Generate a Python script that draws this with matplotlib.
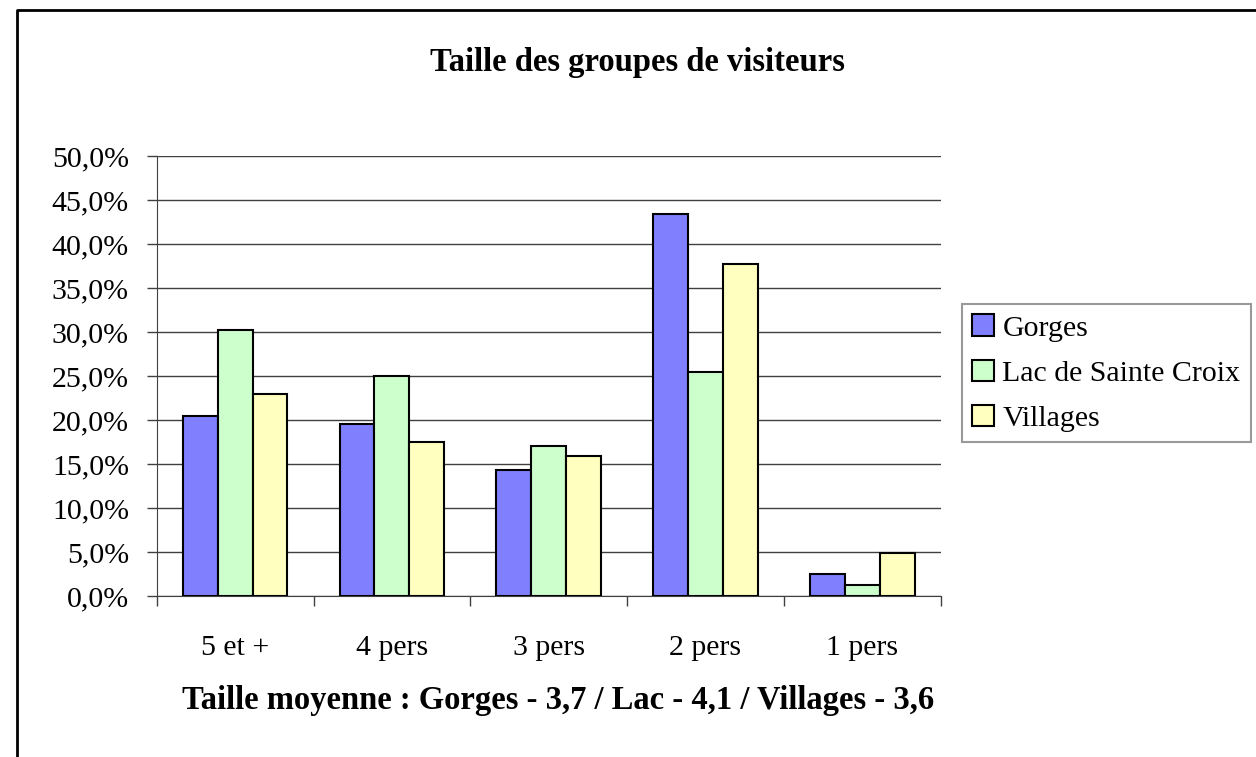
import matplotlib.pyplot as plt
import numpy as np
from matplotlib.ticker import FuncFormatter, FixedLocator
from matplotlib.lines import Line2D

# --- données ---
categories = ['5 et +', '4 pers', '3 pers', '2 pers', '1 pers']
gorges = [20.4, 19.5, 14.3, 43.4, 2.5]
lac = [30.2, 25.0, 17.0, 25.4, 1.3]
villages = [22.9, 17.5, 15.9, 37.7, 4.9]
series_names = ['Gorges', 'Lac de Sainte Croix', 'Villages']
colors = ['#8080FF', '#CCFFCC', '#FFFFC0']

plt.rcParams['font.family'] = ['Liberation Serif', 'DejaVu Serif']

W, H = 1256, 757
fig = plt.figure(figsize=(W / 100, H / 100), dpi=100)

# zone de tracé (en pixels -> fractions)
left, right, bottom, top = 156.7, 940.7, 596, 156
ax = fig.add_axes([left / W, 1 - bottom / H, (right - left) / W, (bottom - top) / H])

x = np.arange(len(categories))
bw = 2 / 9
for i, (vals, name, col) in enumerate(zip([gorges, lac, villages], series_names, colors)):
    ax.bar(x + (i - 1) * bw, vals, width=bw, color=col, edgecolor='black',
           linewidth=1.5, label=name, zorder=3)

ax.set_xlim(-0.5, len(categories) - 0.5)
ax.set_ylim(0, 50)
ax.set_yticks(np.arange(0, 51, 5))
ax.yaxis.set_major_formatter(FuncFormatter(lambda v, p: f'{v:.1f}%'.replace('.', ',')))
ax.grid(axis='y', color='#404040', linewidth=1, zorder=0)

ax.set_xticks(x)
ax.set_xticklabels(categories)
ax.xaxis.set_minor_locator(FixedLocator(np.arange(-0.5, len(categories), 1)))
ax.tick_params(axis='x', which='major', length=0, pad=28, labelsize=21.5)
ax.tick_params(axis='x', which='minor', length=7, width=1, color='#404040', direction='out')
ax.tick_params(axis='y', length=7, width=1, color='#404040', direction='out', pad=13,
               labelsize=21.5)

for s in ['top', 'right']:
    ax.spines[s].set_visible(False)
ax.spines['left'].set_color('#404040')
ax.spines['bottom'].set_color('#404040')

leg = fig.legend(loc='upper left', bbox_to_anchor=(962 / W, 1 - 304 / H),
                 borderaxespad=0, fontsize=21.5, frameon=True, fancybox=False,
                 edgecolor='#808080', handlelength=0.73, handleheight=0.73,
                 handletextpad=0.27, labelspacing=0.6, borderpad=0.35)
leg.get_frame().set_linewidth(1.5)

fig.text(0.5076, 1 - 63 / H, 'Taille des groupes de visiteurs', ha='center', va='center',
         fontsize=23.5, fontweight='bold')
fig.text(0.4447, 1 - 700 / H, 'Taille moyenne : Gorges - 3,7 / Lac - 4,1 / Villages - 3,6',
         ha='center', va='center', fontsize=23.5, fontweight='bold')

# cadre du graphique
fig.add_artist(Line2D([17 / W, 17 / W, 1], [0, 1 - 10 / H, 1 - 10 / H],
                      transform=fig.transFigure, color='black', linewidth=2))

fig.savefig('out.png', dpi=100)
